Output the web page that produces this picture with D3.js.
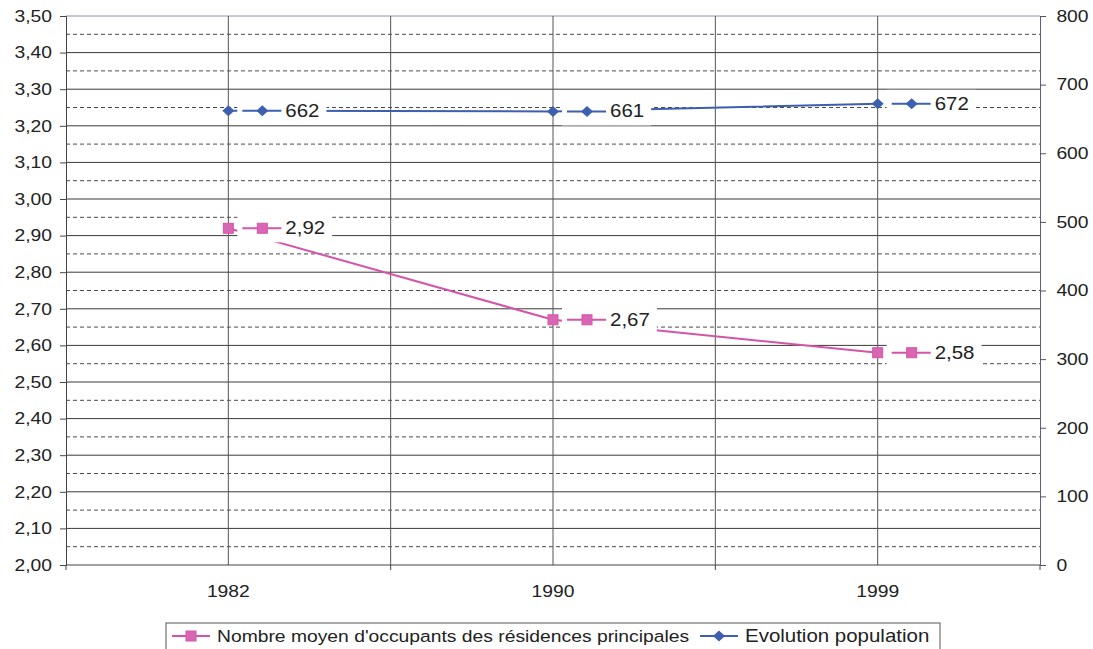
<!DOCTYPE html>
<html><head><meta charset="utf-8">
<script src="https://cdn.jsdelivr.net/npm/d3@7"></script>
<style>
html,body{margin:0;padding:0;background:#fff;}
svg text{font-family:"Liberation Sans",Arial,sans-serif;fill:#222;}
</style></head>
<body><svg id="c" width="1093" height="649"></svg>
<script>
// ---- data ----
const categories = ["1982", "1990", "1999"];
const occupants = [2.92, 2.67, 2.58];
const population = [662, 661, 672];
const occupantsLabels = ["2,92", "2,67", "2,58"];
const populationLabels = ["662", "661", "672"];
const seriesNames = ["Nombre moyen d'occupants des résidences principales", "Evolution population"];
const leftTicks = [2.0,2.1,2.2,2.3,2.4,2.5,2.6,2.7,2.8,2.9,3.0,3.1,3.2,3.3,3.4,3.5];
const rightTicks = [0,100,200,300,400,500,600,700,800];

// ---- layout ----
const SX = 1.17; // horizontal stretch of the scanned text
const L = 66, R = 1040, T = 16, B = 565;
const PINK = "#d455a8", BLUE = "#3d5fb0";
const svg = d3.select("#c");

const x = d3.scalePoint().domain(categories).range([L, R]).padding(0.5);
const step = x.step();
const yL = d3.scaleLinear().domain([2, 3.5]).range([B, T]);
const yR = d3.scaleLinear().domain([0, 800]).range([B, T]);

const g = svg.append("g");

// horizontal gridlines
const halfTicks = d3.range(1, 30).map(i => 2 + i * 0.05);
halfTicks.forEach((v, i) => {
  const solid = (i % 2 === 1);
  g.append("line").attr("x1", L).attr("x2", R).attr("y1", yL(v)).attr("y2", yL(v))
    .attr("stroke", solid ? "#3a3a3a" : "#4a4a4a").attr("stroke-width", 1)
    .attr("stroke-dasharray", solid ? null : "4,3");
});
// top border
g.append("line").attr("x1", L).attr("x2", R).attr("y1", yL(3.5)).attr("y2", yL(3.5))
  .attr("stroke", "#8a8fb5").attr("stroke-width", 1);

// vertical gridlines: category centres and boundaries
const vlines = [];
categories.forEach(c => { vlines.push(x(c)); vlines.push(x(c) + step / 2); });
vlines.filter(v => v < R - 1).forEach(v => {
  g.append("line").attr("x1", v).attr("x2", v).attr("y1", T).attr("y2", B)
    .attr("stroke", "#555").attr("stroke-width", 1);
});
// bottom tick marks at boundaries
[L].concat(categories.map(c => x(c) + step / 2)).forEach(v => {
  g.append("line").attr("x1", v).attr("x2", v).attr("y1", B).attr("y2", B + 5)
    .attr("stroke", "#444").attr("stroke-width", 1);
});

// left axis
const fmt = d => d3.format(".2f")(d).replace(".", ",");
const axL = svg.append("g").attr("transform", `translate(${L},0)`)
  .call(d3.axisLeft(yL).tickValues(leftTicks).tickFormat(fmt).tickSize(6).tickPadding(6));
axL.select(".domain").attr("stroke", "#444");
axL.selectAll(".tick line").attr("stroke", "#444");
axL.selectAll(".tick text").attr("font-size", 16.5).attr("fill", "#222")
  .attr("transform", `scale(${SX},1)`);

// right axis
const axR = svg.append("g").attr("transform", `translate(${R},0)`)
  .call(d3.axisRight(yR).tickValues(rightTicks).tickSize(6).tickPadding(8));
axR.select(".domain").attr("stroke", "#5a5f8a");
axR.selectAll(".tick line").attr("stroke", "#555");
axR.selectAll(".tick text").attr("font-size", 16.5).attr("fill", "#222")
  .attr("transform", `scale(${SX},1)`);

// bottom axis line
svg.append("line").attr("x1", L).attr("x2", R).attr("y1", B).attr("y2", B)
  .attr("stroke", "#444").attr("stroke-width", 1.2);

// category labels
categories.forEach(c => {
  svg.append("text").attr("transform", `translate(${x(c)},597) scale(${SX},1)`)
    .attr("text-anchor", "middle").attr("font-size", 16.5).text(c);
});

// markers
function square(sel, cx, cy, color) {
  sel.append("rect").attr("x", cx - 5).attr("y", cy - 5).attr("width", 10).attr("height", 10)
    .attr("fill", "#d866b2").attr("stroke", color).attr("stroke-width", 1);
}
function diamond(sel, cx, cy, color) {
  sel.append("path").attr("d", `M${cx},${cy - 5.5}L${cx + 6},${cy}L${cx},${cy + 5.5}L${cx - 6},${cy}Z`)
    .attr("fill", color);
}

// lines
const lineL = d3.line().x((d, i) => x(categories[i])).y(d => yL(d));
const lineR = d3.line().x((d, i) => x(categories[i])).y(d => yR(d));
svg.append("path").attr("d", lineL(occupants)).attr("fill", "none").attr("stroke", PINK).attr("stroke-width", 2);
svg.append("path").attr("d", lineR(population)).attr("fill", "none").attr("stroke", BLUE).attr("stroke-width", 2);

occupants.forEach((v, i) => square(svg, x(categories[i]), yL(v), PINK));
population.forEach((v, i) => diamond(svg, x(categories[i]), yR(v), BLUE));

// data labels with legend key
function dataLabel(px, py, label, color, markerFn) {
  const lg = svg.append("g");
  const bx = px + 9;
  const tx = bx + 48;
  const t = lg.append("text").attr("transform", `translate(${tx},${py + 6}) scale(${SX},1)`)
    .attr("font-size", 17.5).text(label);
  const w = t.node().getBBox().width * SX;
  lg.insert("rect", "text").attr("x", bx).attr("y", py - 14).attr("width", 48 + w + 7).attr("height", 28)
    .attr("fill", "#fff");
  lg.append("line").attr("x1", bx + 5).attr("x2", bx + 44).attr("y1", py).attr("y2", py)
    .attr("stroke", color).attr("stroke-width", 2);
  markerFn(lg, bx + 25, py, color);
}
occupants.forEach((v, i) => dataLabel(x(categories[i]), yL(v), occupantsLabels[i], PINK, square));
population.forEach((v, i) => dataLabel(x(categories[i]), yR(v), populationLabels[i], BLUE, diamond));

// legend
const legY = 636;
const leg = svg.append("g");
const legBox = leg.append("rect").attr("x", 166).attr("y", 623).attr("width", 774).attr("height", 28)
  .attr("fill", "#fff").attr("stroke", "#555").attr("stroke-width", 1);
const keys = [[PINK, square, 172], [BLUE, diamond, 700]];
seriesNames.forEach((name, i) => {
  const [col, mk, cx] = keys[i];
  leg.append("line").attr("x1", cx).attr("x2", cx + 38).attr("y1", legY).attr("y2", legY)
    .attr("stroke", col).attr("stroke-width", 2);
  mk(leg, cx + 19, legY, col);
  leg.append("text").attr("transform", `translate(${cx + 45},${legY + 6}) scale(${SX},1)`)
    .attr("font-size", i === 0 ? 16.5 : 17.5).text(name);
});
</script></body></html>
